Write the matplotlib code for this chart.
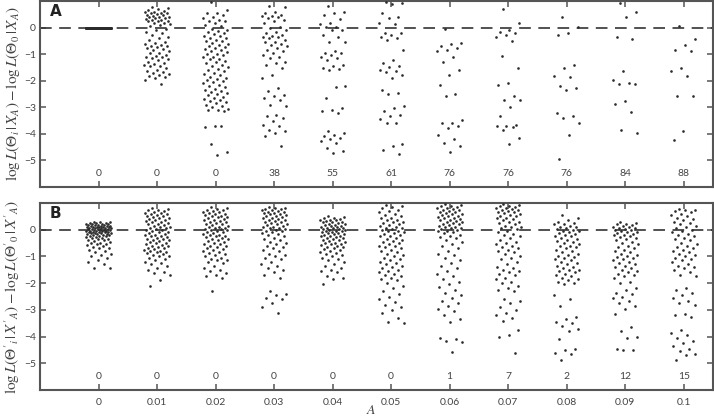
import numpy as np
import matplotlib
matplotlib.use("Agg")
import matplotlib.pyplot as plt

plt.rcParams['font.family'] = ['Lato', 'DejaVu Sans']
plt.rcParams['mathtext.fontset'] = 'stix'

DOT = '#2b2b2b'
GREY = '#555555'
TXT = '#444444'

a_labels = ['0', '0.01', '0.02', '0.03', '0.04', '0.05', '0.06', '0.07', '0.08', '0.09', '0.1']

# counts printed under each strip
counts_a = [0, 0, 0, 38, 55, 61, 76, 76, 76, 84, 88]
counts_b = [0, 0, 0, 0, 0, 0, 1, 7, 2, 12, 15]

# panel A: log-likelihood differences, one list per value of A
a0 = [0.0] * 100
a1 = [0.79, 0.73, 0.69, 0.66, 0.64, 0.6, 0.6, 0.56, 0.54, 0.54, 0.51, 0.48, 0.48, 0.44, 0.41, 0.41, 0.39,
      0.35, 0.35, 0.31, 0.29, 0.29, 0.26, 0.23, 0.23, 0.19, 0.16, 0.14, 0.1, 0.06, -0.06, -0.11, -0.15,
      -0.21, -0.28, -0.34, -0.4, -0.46, -0.53, -0.59, -0.61, -0.65, -0.69, -0.71, -0.74, -0.78, -0.81,
      -0.84, -0.9, -0.94, -0.96, -1.03, -1.06, -1.09, -1.11, -1.15, -1.19, -1.21, -1.28, -1.34, -1.36,
      -1.4, -1.44, -1.46, -1.53, -1.59, -1.65, -1.69, -1.71, -1.74, -1.78, -1.81, -1.86, -1.9, -1.96, -2.11]
a2 = [0.98, 0.66, 0.56, 0.54, 0.48, 0.41, 0.35, 0.29, 0.26, 0.23, 0.16, 0.1, 0.06, -0.05, -0.1, -0.12,
      -0.18, -0.22, -0.25, -0.3, -0.33, -0.38, -0.4, -0.45, -0.5, -0.52, -0.58, -0.6, -0.65, -0.7, -0.72,
      -0.78, -0.8, -0.85, -0.9, -0.92, -0.98, -1.0, -1.05, -1.1, -1.12, -1.18, -1.2, -1.25, -1.3, -1.35,
      -1.4, -1.45, -1.5, -1.55, -1.6, -1.65, -1.7, -1.75, -1.8, -1.85, -1.9, -1.92, -1.98, -2.0, -2.05,
      -2.1, -2.15, -2.2, -2.25, -2.3, -2.35, -2.4, -2.42, -2.48, -2.5, -2.55, -2.6, -2.65, -2.7, -2.72,
      -2.78, -2.8, -2.85, -2.9, -2.95, -3.0, -3.05, -3.1, -3.12, -3.15, -3.7, -3.75, -3.72, -4.4, -4.7, -4.78]
a3 = [0.81, 0.76, 0.6, 0.56, 0.48, 0.45, 0.44, 0.41, 0.35, 0.29, 0.23, 0.19, 0.04, -0.02, -0.09, -0.15,
      -0.21, -0.28, -0.31, -0.34, -0.36, -0.4, -0.46, -0.53, -0.56, -0.61, -0.65, -0.71, -0.78, -0.84,
      -0.9, -0.96, -1.03, -1.09, -1.15, -1.28, -1.34, -1.4, -1.53, -1.78, -1.9, -2.28, -2.4, -2.53, -2.59,
      -2.65, -2.71, -2.9, -2.96, -3.28, -3.34, -3.4, -3.53, -3.65, -3.71, -3.84, -3.9, -3.96, -4.09, -4.46]
a4 = [0.81, 0.6, 0.56, 0.48, 0.31, 0.19, 0.14, 0.04, 0.01, -0.09, -0.11, -0.28, -0.34, -0.53, -0.56, -0.9,
      -0.94, -0.96, -1.03, -1.09, -1.15, -1.21, -1.4, -1.44, -1.53, -1.55, -1.59, -2.19, -2.24, -2.65,
      -3.03, -3.09, -3.15, -3.21, -3.9, -3.96, -4.03, -4.09, -4.15, -4.21, -4.28, -4.34, -4.53, -4.65, -4.71]
a5 = [0.98, 0.94, 0.89, 0.56, 0.41, 0.35, 0.19, 0.14, -0.19, -0.21, -0.28, -0.34, -0.4, -0.46, -0.84,
      -1.21, -1.34, -1.46, -1.49, -1.59, -1.65, -1.69, -1.78, -1.9, -2.34, -2.46, -2.49, -2.96, -3.03,
      -3.15, -3.28, -3.34, -3.46, -3.59, -3.61, -4.4, -4.44, -4.59, -4.74]
a6 = [-0.06, -0.59, -0.63, -0.71, -0.78, -0.84, -0.9, -1.09, -1.31, -1.59, -1.78, -2.15, -2.5, -2.56,
      -3.49, -3.59, -3.61, -3.71, -3.78, -4.06, -4.21, -4.36, -4.44, -4.69]
a7 = [0.69, 0.19, -0.11, -0.15, -0.21, -0.28, -0.34, -0.49, -1.06, -1.53, -2.09, -2.15, -2.56, -2.71,
      -2.74, -2.99, -3.31, -3.65, -3.69, -3.71, -3.74, -3.84, -4.15, -4.4]
a8 = [0.39, 0.04, -0.21, -0.28, -1.4, -1.53, -1.84, -1.86, -2.21, -2.28, -2.34, -3.21, -3.34, -3.4,
      -3.61, -4.03, -4.94]
a9 = [0.94, 0.6, 0.41, -0.34, -0.44, -1.65, -1.99, -2.09, -2.13, -2.14, -2.78, -2.86, -3.18, -3.86, -3.96]
a10 = [0.06, -0.44, -0.65, -0.84, -0.88, -1.53, -1.65, -1.84, -2.56, -2.59, -3.9, -4.25]

# panel B: same differences for the primed data sets
b0 = [0.3, 0.28, 0.27, 0.25, 0.25, 0.24, 0.22, 0.22, 0.2, 0.2, 0.19, 0.18, 0.17, 0.16, 0.15, 0.15, 0.14,
      0.13, 0.12, 0.12, 0.11, 0.1, 0.1, 0.09, 0.08, 0.07, 0.06, 0.05, 0.05, 0.04, 0.03, 0.02, 0.01, 0.0,
      0.0, -0.01, -0.02, -0.03, -0.04, -0.05, -0.05, -0.06, -0.07, -0.08, -0.09, -0.1, -0.1, -0.11, -0.12,
      -0.13, -0.14, -0.15, -0.16, -0.17, -0.18, -0.2, -0.21, -0.22, -0.24, -0.25, -0.27, -0.28, -0.3,
      -0.32, -0.33, -0.35, -0.38, -0.4, -0.42, -0.45, -0.48, -0.5, -0.52, -0.55, -0.58, -0.6, -0.65,
      -0.68, -0.7, -0.75, -0.8, -0.85, -0.9, -0.95, -1.0, -1.05, -1.15, -1.2, -1.3, -1.42, -1.45]
b1 = [0.82, 0.78, 0.75, 0.73, 0.7, 0.68, 0.64, 0.62, 0.6, 0.57, 0.55, 0.52, 0.5, 0.48, 0.44, 0.42, 0.4,
      0.37, 0.35, 0.32, 0.3, 0.27, 0.25, 0.22, 0.2, 0.18, 0.15, 0.12, 0.1, 0.07, 0.05, 0.02, 0.0, -0.02,
      -0.05, -0.08, -0.1, -0.13, -0.15, -0.18, -0.2, -0.22, -0.25, -0.28, -0.3, -0.33, -0.35, -0.38,
      -0.4, -0.43, -0.45, -0.48, -0.5, -0.55, -0.58, -0.6, -0.62, -0.65, -0.68, -0.7, -0.73, -0.75,
      -0.78, -0.8, -0.82, -0.85, -0.88, -0.9, -0.95, -0.98, -1.0, -1.05, -1.1, -1.15, -1.2, -1.25, -1.3,
      -1.35, -1.42, -1.5, -1.58, -1.62, -1.68, -1.9, -2.12]
b2 = [0.84, 0.8, 0.78, 0.75, 0.72, 0.7, 0.68, 0.66, 0.64, 0.6, 0.58, 0.55, 0.52, 0.5, 0.48, 0.46, 0.44,
      0.4, 0.38, 0.36, 0.33, 0.3, 0.28, 0.25, 0.22, 0.2, 0.18, 0.15, 0.12, 0.1, 0.08, 0.05, 0.03, 0.01,
      0.0, -0.02, -0.04, -0.07, -0.1, -0.12, -0.15, -0.18, -0.2, -0.23, -0.25, -0.28, -0.3, -0.33, -0.36,
      -0.4, -0.43, -0.46, -0.5, -0.52, -0.55, -0.6, -0.62, -0.66, -0.7, -0.72, -0.75, -0.8, -0.85, -0.88,
      -0.9, -0.95, -1.0, -1.05, -1.1, -1.12, -1.15, -1.2, -1.25, -1.35, -1.45, -1.5, -1.55, -1.62, -1.7,
      -1.75, -1.8, -2.3]
b3 = [0.85, 0.82, 0.8, 0.78, 0.76, 0.74, 0.72, 0.7, 0.68, 0.66, 0.64, 0.62, 0.6, 0.58, 0.55, 0.52, 0.5,
      0.48, 0.45, 0.42, 0.4, 0.38, 0.35, 0.32, 0.3, 0.28, 0.25, 0.22, 0.2, 0.18, 0.15, 0.12, 0.1, 0.08,
      0.05, 0.02, 0.0, -0.03, -0.06, -0.1, -0.13, -0.16, -0.2, -0.25, -0.3, -0.35, -0.4, -0.45, -0.5,
      -0.55, -0.6, -0.65, -0.7, -0.75, -0.8, -0.9, -0.95, -1.0, -1.05, -1.1, -1.2, -1.3, -1.35, -1.45,
      -1.5, -1.6, -1.7, -1.8, -2.3, -2.4, -2.45, -2.55, -2.6, -2.75, -2.9, -3.1]
b4 = [0.5, 0.48, 0.45, 0.42, 0.4, 0.38, 0.36, 0.35, 0.32, 0.3, 0.28, 0.27, 0.25, 0.22, 0.2, 0.19, 0.18,
      0.15, 0.13, 0.12, 0.1, 0.08, 0.06, 0.05, 0.03, 0.02, 0.0, -0.02, -0.03, -0.05, -0.06, -0.08, -0.1,
      -0.12, -0.13, -0.15, -0.17, -0.2, -0.22, -0.24, -0.25, -0.28, -0.3, -0.32, -0.35, -0.38, -0.4,
      -0.42, -0.45, -0.48, -0.5, -0.52, -0.55, -0.58, -0.6, -0.63, -0.66, -0.7, -0.72, -0.75, -0.8,
      -0.83, -0.86, -0.9, -0.95, -1.0, -1.05, -1.1, -1.15, -1.2, -1.3, -1.35, -1.45, -1.5, -1.55, -1.6,
      -1.75, -1.8, -1.85, -2.04]
b5 = [0.94, 0.9, 0.85, 0.8, 0.75, 0.7, 0.65, 0.6, 0.55, 0.5, 0.45, 0.42, 0.38, 0.35, 0.3, 0.28, 0.25,
      0.2, 0.18, 0.15, 0.1, 0.08, 0.05, 0.02, 0.0, -0.03, -0.06, -0.1, -0.12, -0.15, -0.2, -0.22, -0.25,
      -0.3, -0.35, -0.4, -0.42, -0.45, -0.5, -0.55, -0.6, -0.62, -0.65, -0.7, -0.75, -0.8, -0.85, -0.9,
      -0.95, -1.0, -1.05, -1.1, -1.15, -1.2, -1.25, -1.3, -1.35, -1.4, -1.45, -1.5, -1.55, -1.6, -1.65,
      -1.7, -1.75, -1.8, -1.85, -1.9, -2.0, -2.1, -2.2, -2.3, -2.4, -2.5, -2.6, -2.7, -2.8, -2.9, -3.0,
      -3.1, -3.3, -3.45, -3.5]
b6 = [0.95, 0.92, 0.9, 0.87, 0.85, 0.82, 0.8, 0.78, 0.75, 0.72, 0.7, 0.68, 0.65, 0.62, 0.6, 0.57, 0.55,
      0.52, 0.5, 0.47, 0.45, 0.42, 0.4, 0.37, 0.35, 0.32, 0.3, 0.27, 0.25, 0.22, 0.2, 0.17, 0.15, 0.12,
      0.1, 0.07, 0.05, 0.02, 0.0, -0.03, -0.06, -0.1, -0.14, -0.18, -0.22, -0.27, -0.32, -0.38, -0.45,
      -0.55, -0.6, -0.7, -0.8, -0.9, -0.95, -1.05, -1.15, -1.25, -1.35, -1.45, -1.55, -1.65, -1.75,
      -1.85, -1.95, -2.05, -2.15, -2.25, -2.35, -2.45, -2.55, -2.65, -2.75, -2.85, -2.95, -3.05, -3.2,
      -3.35, -3.45, -4.05, -4.1, -4.15, -4.2, -4.56]
b7 = [0.95, 0.92, 0.9, 0.88, 0.85, 0.82, 0.8, 0.78, 0.75, 0.72, 0.7, 0.67, 0.65, 0.62, 0.6, 0.55, 0.52,
      0.5, 0.45, 0.42, 0.4, 0.35, 0.3, 0.28, 0.25, 0.2, 0.15, 0.12, 0.1, 0.05, 0.02, -0.05, -0.1, -0.15,
      -0.2, -0.25, -0.3, -0.4, -0.45, -0.5, -0.55, -0.6, -0.65, -0.7, -0.75, -0.8, -0.85, -0.9, -1.0,
      -1.05, -1.1, -1.2, -1.3, -1.4, -1.45, -1.5, -1.55, -1.6, -1.65, -1.7, -1.8, -1.85, -1.95, -2.0,
      -2.1, -2.2, -2.25, -2.3, -2.6, -2.65, -2.75, -2.9, -3.0, -3.1, -3.2, -3.3, -3.4, -3.75, -3.95,
      -4.0, -4.62]
b8 = [0.56, 0.45, 0.35, 0.3, 0.25, 0.22, 0.2, 0.15, 0.12, 0.1, 0.05, 0.02, 0.0, -0.03, -0.06, -0.1,
      -0.12, -0.15, -0.2, -0.22, -0.25, -0.3, -0.35, -0.4, -0.42, -0.45, -0.5, -0.55, -0.6, -0.62, -0.65,
      -0.7, -0.75, -0.8, -0.85, -0.9, -0.95, -1.0, -1.02, -1.05, -1.1, -1.15, -1.2, -1.25, -1.3, -1.35,
      -1.4, -1.45, -1.5, -1.52, -1.55, -1.6, -1.65, -1.7, -1.75, -1.8, -1.85, -1.9, -1.95, -2.0, -2.05,
      -2.45, -2.6, -2.85, -3.25, -3.35, -3.45, -3.5, -3.6, -3.7, -3.8, -4.1, -4.45, -4.5, -4.6, -4.65, -4.87]
b9 = [0.28, 0.25, 0.22, 0.2, 0.18, 0.15, 0.12, 0.1, 0.08, 0.05, 0.03, 0.0, -0.02, -0.05, -0.08, -0.1,
      -0.12, -0.15, -0.18, -0.2, -0.25, -0.28, -0.3, -0.35, -0.4, -0.45, -0.5, -0.55, -0.6, -0.65, -0.7,
      -0.75, -0.8, -0.85, -0.9, -0.95, -1.0, -1.02, -1.05, -1.1, -1.15, -1.2, -1.25, -1.3, -1.35, -1.4,
      -1.45, -1.5, -1.55, -1.6, -1.65, -1.7, -1.75, -1.8, -1.95, -2.0, -2.2, -2.25, -2.35, -2.4, -2.5,
      -2.55, -2.65, -2.75, -2.85, -2.95, -3.15, -3.65, -3.8, -4.0, -4.05, -4.45, -4.5, -4.52]
b10 = [0.78, 0.75, 0.72, 0.7, 0.65, 0.6, 0.55, 0.5, 0.45, 0.4, 0.35, 0.3, 0.25, 0.2, 0.15, 0.1, 0.05,
       0.0, -0.05, -0.1, -0.15, -0.2, -0.25, -0.3, -0.35, -0.4, -0.5, -0.55, -0.6, -0.65, -0.7, -0.75,
       -0.8, -0.85, -0.9, -0.95, -1.0, -1.05, -1.1, -1.15, -1.2, -1.3, -1.35, -1.4, -1.45, -1.5, -1.6,
       -1.7, -1.75, -2.2, -2.25, -2.35, -2.45, -2.55, -2.65, -2.75, -2.8, -3.15, -3.2, -3.25, -3.75,
       -3.85, -3.95, -4.05, -4.15, -4.25, -4.35, -4.45, -4.55, -4.65, -4.7, -4.87]

panel_a = [a0, a1, a2, a3, a4, a5, a6, a7, a8, a9, a10]
panel_b = [b0, b1, b2, b3, b4, b5, b6, b7, b8, b9, b10]


def jitter(n, width=0.44):
    # spread points sideways with a golden-ratio sequence so nothing is random
    return ((np.arange(n) * 0.6180339887 + 0.31) % 1.0 - 0.5) * width


def draw_panel(ax, groups, counts, letter, ylabel, bottom_labels):
    for i, vals in enumerate(groups):
        vals = np.asarray(vals, dtype=float)
        ax.scatter(i + jitter(len(vals)), vals, s=3.6, color=DOT, linewidths=0, zorder=3)
        ax.text(i, -5.5, str(counts[i]), ha='center', va='center', fontsize=7.5, color=TXT)
    ax.axhline(0, color='#333333', lw=1.2, dashes=(7, 4.5), zorder=2)
    ax.set_xlim(-1, 10.5)
    ax.set_ylim(-6, 1)
    ax.set_xticks(range(len(groups)))
    ax.set_yticks(range(-5, 1))
    ax.set_yticklabels(['\u22125', '\u22124', '\u22123', '\u22122', '\u22121', '0'])
    ax.tick_params(direction='in', length=4, width=1.1, color=GREY, labelcolor=TXT,
                   labelsize=7.5, top=True, right=True, pad=3)
    if bottom_labels:
        ax.set_xticklabels(a_labels)
        ax.tick_params(axis='x', pad=6)
    else:
        ax.set_xticklabels([])
    for sp in ax.spines.values():
        sp.set_color(GREY)
        sp.set_linewidth(1.5)
    ax.text(-0.83, 0.6, letter, fontsize=11, fontweight='bold', color='#222222',
            ha='left', va='center', family='DejaVu Sans')
    ax.set_ylabel(ylabel, fontsize=11, color=TXT, labelpad=1)


fig = plt.figure(figsize=(7.14, 4.17), dpi=100)
ax_a = fig.add_axes([0.056, 0.5516, 0.9426, 0.446])
ax_b = fig.add_axes([0.056, 0.0647, 0.9426, 0.4485])

label_a = r'$\log L\left(\Theta_i\,|\,X_A\right) - \log L\left(\Theta_0\,|\,X_A\right)$'
label_b = r"$\log L\left(\Theta'_i\,|\,X'_A\right) - \log L\left(\Theta'_0\,|\,X'_A\right)$"

draw_panel(ax_a, panel_a, counts_a, 'A', label_a, False)
draw_panel(ax_b, panel_b, counts_b, 'B', label_b, True)
fig.text(0.52, 0.003, r'$A$', fontsize=10, color=TXT, ha='center', va='bottom')

fig.savefig('out.png', dpi=100)
